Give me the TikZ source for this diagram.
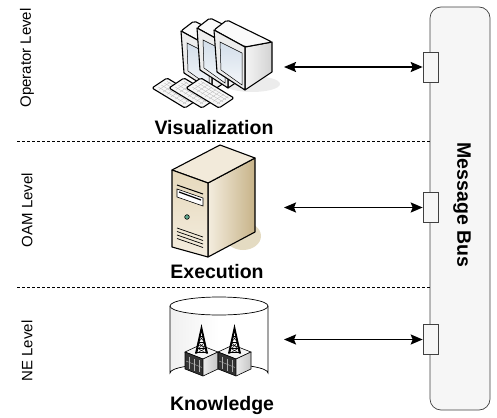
\documentclass[tikz,border=0pt]{standalone}
\usepackage{fontspec}
\setmainfont{Liberation Sans}
\usetikzlibrary{arrows.meta,shapes.geometric}
\definecolor{busfill}{HTML}{F6F6F6}
\definecolor{scrA}{HTML}{D3DEEA}
\definecolor{scrB}{HTML}{F4F7FA}
\definecolor{begTop}{HTML}{F2EADA}
\definecolor{begFront}{HTML}{E6D9BC}
\definecolor{begSideL}{HTML}{F4EDDF}
\definecolor{begSideR}{HTML}{C7B388}
\definecolor{begShadow}{HTML}{E4DBC2}
\definecolor{led}{HTML}{5FA88E}
\tikzset{
  outl/.style={draw=black, line width=1.1pt, line join=round},
  port/.style={draw=black!75, fill=busfill, line width=0.6pt, minimum width=15pt, minimum height=30pt, inner sep=0pt},
  biarrow/.style={line width=1.8pt, {Stealth[length=12pt,width=10pt,inset=2pt]}-{Stealth[length=12pt,width=10pt,inset=2pt]}},
  dashline/.style={line width=1pt, dash pattern=on 3pt off 2pt},
  levellabel/.style={rotate=90, font=\fontsize{15}{15}\selectfont, inner sep=0pt},
  iconlabel/.style={font=\bfseries\fontsize{19.5}{19.5}\selectfont, inner sep=0pt},
  crt/.pic={
    \shade[left color=gray!8, right color=gray!35] (31,17) -- (58,12) -- (58,42) -- (31,60) -- cycle;
    \draw[outl] (31,17) -- (58,12) -- (58,42) -- (31,60) -- cycle;
    \draw[outl, fill=gray!4, rounded corners=2pt] (0,0) -- (13,-10) -- (58,12) -- (31,17) -- cycle;
    \draw[outl, fill=gray!14] (0,0) -- (31,17) -- (31,60) -- (3,42) -- cycle;
    \shade[top color=scrA, bottom color=scrB] (6,12) -- (28,23) -- (28,55) -- (7,40) -- cycle;
    \draw[line width=0.5pt] (6,12) -- (28,23) -- (28,55) -- (7,40) -- cycle;
  },
  kbd/.pic={
    \draw[outl, fill=gray!6, rounded corners=1.5pt] (0,0) -- (15,-10) -- (48,10) -- (33,20) -- cycle;
    \foreach \s in {0.25,0.45,0.65,0.82} \draw[gray!55, line width=0.35pt] ({15*\s+33*0.08},{-10*\s+20*0.08}) -- ({15*\s+33*0.92},{-10*\s+20*0.92});
    \foreach \t in {0.15,0.27,...,0.9} \draw[gray!55, line width=0.35pt] ({15*0.15+33*\t},{-10*0.15+20*\t}) -- ({15*0.88+33*\t},{-10*0.88+20*\t});
  },
  neunit/.pic={
    \draw[line width=0.6pt, fill=gray!8] (0,0) -- (15,-7) -- (33,0) -- (18,7) -- cycle;
    \fill[black!80] (0,0) -- (18,7) -- (18,24) -- (0,17) -- cycle;
    \foreach \k in {4,9,14} \draw[gray!60, line width=0.4pt] (\k,{\k*7/18+3}) -- (\k,{\k*7/18+15});
    \draw[gray!60, line width=0.4pt] (1,9) -- (17,15.5);
    \shade[left color=gray!15, right color=gray!45] (18,7) -- (33,0) -- (33,17) -- (18,24) -- cycle;
    \draw[line width=0.6pt] (0,0) -- (18,7) -- (33,0) (18,7) -- (18,24);
    \draw[line width=0.6pt] (0,0) -- (0,17) -- (18,24) -- (33,17) -- (33,0);
    \fill[black] (16.5,-28) -- (10,1.5) -- (12.2,1.5) -- (16.5,-20) -- (20.8,1.5) -- (23,1.5) -- cycle;
    \foreach \h in {-16,-10,-4,0.5} \draw[line width=0.6pt] ({16.5-(\h+28)*6.5/29.5},\h) -- ({16.5+(\h+28)*6.5/29.5},\h);
    \draw[line width=0.4pt] (13.2,-10) -- (18.8,-4) (19.8,-10) -- (14.2,-4) (12,-4) -- (20,0.5) (21,-4) -- (13,0.5) (14.3,-16) -- (19.4,-10) (18.7,-16) -- (13.6,-10);
  }
}
\begin{document}
\begin{tikzpicture}[x=1pt, y=-1pt]
\useasboundingbox (0,0) rectangle (497,417);

% Message bus
\node[draw=black!75, fill=busfill, rounded corners=11pt, line width=0.7pt, minimum width=60pt, minimum height=403pt, inner sep=0pt] (bus) at (460,208.5) {};
\node[rotate=-90, font=\bfseries\fontsize{19.5}{19.5}\selectfont, inner sep=0pt] (buslabel) at (462,205) {Message Bus};

% ports
\node[port] (p1) at (430.5,67) {};
\node[port] (p2) at (430.5,207.5) {};
\node[port] (p3) at (430.5,339.5) {};

% arrows
\coordinate (a1) at (284,67);
\coordinate (a2) at (284,207.5);
\coordinate (a3) at (284,339.5);
\draw[biarrow] (a1) -- (p1.west);
\draw[biarrow] (a2) -- (p2.west);
\draw[biarrow] (a3) -- (p3.west);

% level separators
\coordinate (d1) at (17,141);
\coordinate (d2) at (17,287);
\draw[dashline] (d1) -- (d1 -| bus.west);
\draw[dashline] (d2) -- (d2 -| bus.west);

% level labels
\node[levellabel] (lv1) at (27,58) {Operator Level};
\node[levellabel] (lv2) at (27,210) {OAM Level};
\node[levellabel] (lv3) at (27,351) {NE Level};

% Visualization icon
\fill[gray!15] (252,84) ellipse[x radius=28, y radius=8];
\pic at (181,31) {crt};
\pic at (197,28) {crt};
\pic at (214,30) {crt};
\pic at (152,88) {kbd};
\pic at (169,88) {kbd};
\pic at (186,88) {kbd};
\node[iconlabel] (vis) at (214,128) {Visualization};

% Execution icon (server)
\fill[begShadow] (243,236) ellipse[x radius=18, y radius=14];
\shade[left color=begSideL, right color=begSideR] (208,183) -- (255,158) -- (255,232) -- (208,257) -- cycle;
\draw[outl] (208,183) -- (255,158) -- (255,232) -- (208,257) -- cycle;
\draw[outl, fill=begTop] (172,170) -- (220,145) -- (255,158) -- (208,183) -- cycle;
\shade[top color=begFront, bottom color=begSideL] (172,170) -- (208,183) -- (208,257) -- (172,247) -- cycle;
\draw[outl] (172,170) -- (208,183) -- (208,257) -- (172,247) -- cycle;
\draw[line width=1pt] (177,185) -- (203,194);
\draw[line width=0.6pt, fill=white] (177,189) -- (203,198) -- (203,206) -- (177,197) -- cycle;
\draw[line width=1.2pt] (179,192) -- (201,200);
\draw[line width=0.6pt, fill=led] (187,217) circle[radius=2.3];
\foreach \v in {0,3.5,7,10.5} \draw[line width=0.7pt] (177,{228+\v}) -- (203,{237+\v});
\node[iconlabel] (exe) at (217,272) {Execution};

% Knowledge icon (database)
\shade[left color=gray!12, right color=white, middle color=white] (170,306) -- (170,373) arc[start angle=180, end angle=360, x radius=49, y radius=9] -- (268,306) arc[start angle=0, end angle=180, x radius=49, y radius=9] -- cycle;
\draw[line width=0.7pt] (170,306) -- (170,373) arc[start angle=180, end angle=360, x radius=49, y radius=9] -- (268,306);
\draw[line width=0.7pt, fill=white] (219,306) ellipse[x radius=49, y radius=9];
\pic at (185,352) {neunit};
\pic at (218,352) {neunit};
\node[iconlabel] (kno) at (222,405) {Knowledge};
\end{tikzpicture}
\end{document}
